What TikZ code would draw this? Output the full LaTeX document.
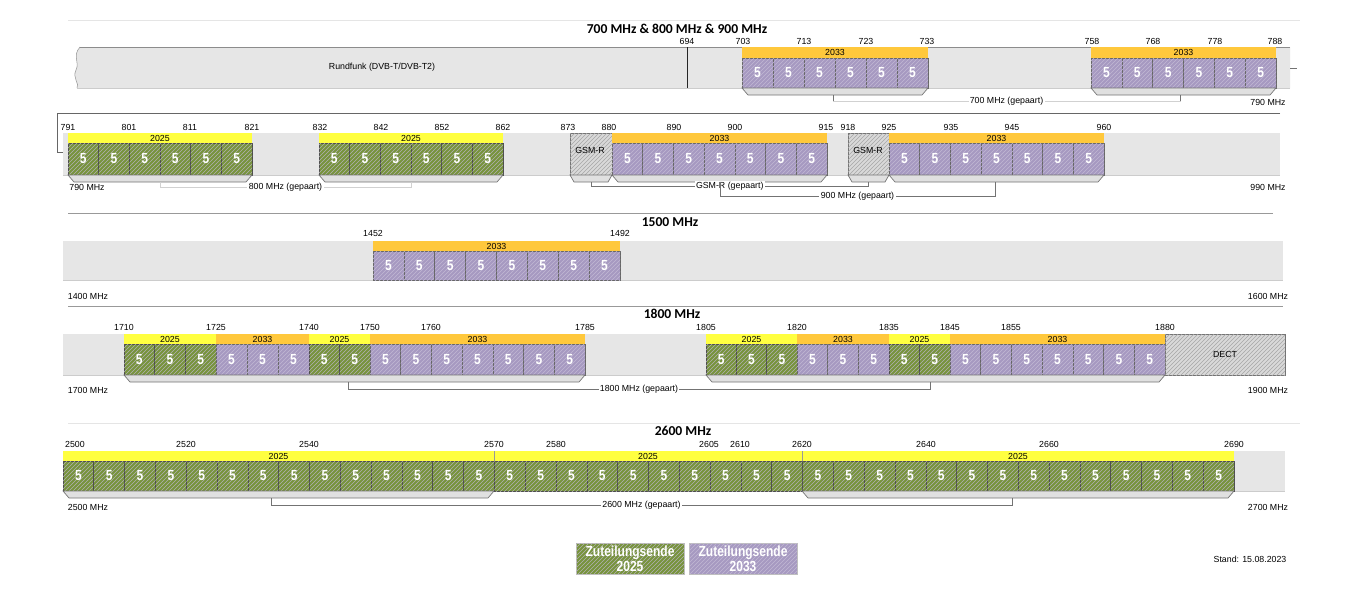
\documentclass[tikz,border=0pt]{standalone}
\usepackage{fontspec}
\setmainfont{Liberation Sans}
\newfontfamily\narrowfont[FakeStretch=0.82]{Liberation Sans}
\newfontfamily\titlefont{Carlito}
\usetikzlibrary{patterns,arrows.meta}
\definecolor{grn}{RGB}{119,147,60}
\definecolor{prp}{RGB}{166,153,193}
\definecolor{ylw}{RGB}{255,255,64}
\definecolor{org}{RGB}{255,200,60}
\definecolor{barc}{RGB}{230,230,230}
\definecolor{hatc}{RGB}{217,217,217}
% #1 prefix, #2 x0, #3 cell width, #4 n, #5 ytop, #6 ybot, #7 style
\newcommand\CellRun[7]{%
  \foreach \k in {1,...,#4}{%
    \pgfmathsetmacro\xa{#2+(\k-1)*#3}%
    \pgfmathsetmacro\xb{#2+\k*#3}%
    \path[#7] (\xa,#5) rectangle (\xb,#6);%
    \node[five] (#1-\k) at ({(\xa+\xb)/2},{(#5+#6)/2}) {5};%
  }}
% #1 name, #2 x0, #3 x1, #4 ytop, #5 style, #6 text
\newcommand\Hdr[6]{%
  \path[#5] (#2,#4) rectangle (#3,#4+10.5);%
  \node[lab] (#1) at ({(#2+#3)/2},#4+5.5) {#6};}
% #1 name, #2 x0, #3 x1, #4 ybot, #5 inset
\newcommand\Brk[5]{%
  \path[brkst] (#2,#4) -- (#2+#5,#4+7) -- (#3-#5,#4+7) -- (#3,#4) -- cycle;%
  \coordinate (#1) at ({(#2+#3)/2},#4+7);}
\begin{document}
\begin{tikzpicture}[x=0.75pt,y=-0.75pt,
  font=\fontsize{6.6}{7.5}\selectfont,
  lab/.style={inner sep=0pt, text=black},
  ttl/.style={inner sep=1pt, font=\titlefont\bfseries\fontsize{10.2}{12}\selectfont},
  five/.style={inner sep=0pt, text=white, font=\narrowfont\bfseries\fontsize{11}{12}\selectfont},
  gcell/.style={fill=grn, postaction={pattern=north east lines, pattern color=black!30}, draw=black!70, line width=0.5pt},
  pcell/.style={fill=prp, postaction={pattern=north east lines, pattern color=white!30!prp}, draw=black!60, line width=0.5pt},
  h25/.style={fill=ylw}, h33/.style={fill=org},
  barbg/.style={fill=barc},
  hatchbox/.style={fill=hatc, postaction={pattern=north east lines, pattern color=black!35}, draw=black!55, line width=0.5pt},
  brkst/.style={fill=black!12, draw=black!55, line width=0.5pt},
  pair/.style={draw=black!55, line width=0.45pt},
  faint/.style={draw=black!18, line width=0.45pt},
  pairlab/.style={fill=white, inner sep=1pt},
  sep/.style={draw=black!40, line width=0.6pt},
  lightsep/.style={draw=black!10, line width=0.6pt},
  legbox/.style={minimum width=81pt, minimum height=23pt, inner sep=0pt, align=center,
    text=white, font=\narrowfont\bfseries\fontsize{11}{11}\selectfont},
]
\useasboundingbox (0,0) rectangle (1351,600);
\fill[white] (0,0) rectangle (1351,600);

% ---------- separators and titles ----------
\draw[lightsep] (68,20) -- (1300,20);
\draw[sep] (68,213) -- (1273,213);
\draw[sep] (68,306) -- (1283,306);
\draw[lightsep] (68,423) -- (1300,423);
\node[ttl] (T1) at (677,29) {700 MHz \& 800 MHz \& 900 MHz};
\node[ttl] (T2) at (670,222) {1500 MHz};
\node[ttl] (T3) at (672,314) {1800 MHz};
\node[ttl] (T4) at (683,431) {2600 MHz};

% ================= ROW 1 =================
\path[barbg] (80,47) .. controls (72,56) and (80,62) .. (76,70) .. controls (72,78) and (80,84) .. (77,88) -- (1290,88) -- (1290,47) -- cycle;
\draw[black!40, line width=0.4pt] (80,47) .. controls (72,56) and (80,62) .. (76,70) .. controls (72,78) and (80,84) .. (77,88);
\draw[black!45, line width=0.6pt] (80,47) -- (1290,47);
\draw[black!20, line width=0.5pt] (77,88) -- (1290,88);
\node[lab] (rund) at (382,67) {Rundfunk (DVB-T/DVB-T2)};
\draw[black!85, line width=0.5pt] (687,47) -- (687,88);
\foreach \v/\x in {694/687, 703/743, 713/804, 723/866, 733/927, 758/1092, 768/1153, 778/1215, 788/1275}
  \node[lab] (t1-\v) at (\x,41) {\v};
\Hdr{h1a}{742}{928}{47}{h33}{2033}
\CellRun{c1a}{742}{31}{6}{58}{88}{pcell}
\Hdr{h1b}{1091}{1276}{47}{h33}{2033}
\CellRun{c1b}{1091}{30.833}{6}{58}{88}{pcell}
\Brk{b1a}{742}{928}{88}{6}
\Brk{b1b}{1091}{1276}{88}{6}
\coordinate (p1a) at (833,95);
\coordinate (p1b) at (1180,95);
\draw[faint] (p1a) |- node[pairlab, pos=0.75, text=black] {700 MHz (gepaart)} (p1b |- 0,101) -- (p1b);
\draw[black!55] (p1a) -- ++(0,6);
\draw[black!55] (p1b) -- ++(0,6);
\node[lab] (r1r) at (1268,102) {790 MHz};
\coordinate (stubA) at (1290,68);
\coordinate (stubB) at (1297,68);
\draw[black!55, line width=0.5pt] (stubA) -- (stubB);

% ================= ROW 2 =================
\coordinate (loopR) at (1280,113);
\coordinate (loopL) at (57,113);
\coordinate (loopIn) at (67,152);
\draw[black!60, line width=0.6pt, -{Latex[length=3pt,width=2.6pt]}] (loopR) -- (loopL) |- (loopIn);
\path[barbg] (63,133) rectangle (1280,175);
\draw[black!20, line width=0.5pt] (63,175) -- (1280,175);
\foreach \v/\x in {791/68, 801/129, 811/190, 821/252, 832/320, 842/381, 852/442, 862/503, 873/568, 880/609, 890/674, 900/735, 915/826, 918/848, 925/889, 935/951, 945/1012, 960/1104}
  \node[lab] (t2-\v) at (\x,127) {\v};
\Hdr{h2a}{68}{252}{133}{h25}{2025}
\CellRun{c2a}{68}{30.667}{6}{143}{175}{gcell}
\Hdr{h2b}{319}{503}{133}{h25}{2025}
\CellRun{c2b}{319}{30.667}{6}{143}{175}{gcell}
\path[hatchbox] (570,133) rectangle (612,175);
\node[lab] (gsm1) at (590,150) {GSM-R};
\Hdr{h2c}{612}{827}{133}{h33}{2033}
\CellRun{c2c}{612}{30.714}{7}{143}{175}{pcell}
\path[hatchbox] (848,133) rectangle (889,175);
\node[lab] (gsm2) at (868,150) {GSM-R};
\Hdr{h2d}{889}{1104}{133}{h33}{2033}
\CellRun{c2d}{889}{30.714}{7}{143}{175}{pcell}
\Brk{b2a}{68}{252}{175}{6}
\Brk{b2b}{319}{503}{175}{6}
\Brk{b2g1}{570}{612}{175}{4}
\Brk{b2c}{612}{827}{175}{6}
\Brk{b2g2}{848}{889}{175}{4}
\Brk{b2d}{889}{1104}{175}{6}
\draw[faint] (b2a) |- node[pairlab, pos=0.75, text=black] {800 MHz (gepaart)} (b2b |- 0,187) -- (b2b);
\draw[pair] (b2g1) |- node[pairlab, pos=0.75, text=black] {GSM-R (gepaart)} (b2g2 |- 0,186) -- (b2g2);
\coordinate (p2c) at (720,182);
\coordinate (p2d) at (995,182);
\draw[pair] (p2c) |- node[pairlab, pos=0.75, text=black] {900 MHz (gepaart)} (p2d |- 0,196) -- (p2d);
\node[lab] (r2l) at (87,187) {790 MHz};
\node[lab] (r2r) at (1268,187) {990 MHz};

% ================= ROW 3 =================
\path[barbg] (63,241) rectangle (1283,280);
\draw[black!20, line width=0.5pt] (63,280) -- (1283,280);
\node[lab] (t3-1452) at (373,233) {1452};
\node[lab] (t3-1492) at (620,233) {1492};
\Hdr{h3a}{373}{620}{241}{h33}{2033}
\CellRun{c3a}{373}{30.875}{8}{251}{280}{pcell}
\node[lab] (r3l) at (88,296) {1400 MHz};
\node[lab] (r3r) at (1268,296) {1600 MHz};

% ================= ROW 4 =================
\path[barbg] (63,334) rectangle (1285,375);
\draw[black!20, line width=0.5pt] (63,375) -- (1285,375);
\foreach \v/\x in {1710/124, 1725/216, 1740/309, 1750/370, 1760/431, 1785/585, 1805/706, 1820/797, 1835/889, 1845/950, 1855/1011, 1880/1165}
  \node[lab] (t4-\v) at (\x,327) {\v};
\Hdr{h4a}{124}{216}{334}{h25}{2025}
\Hdr{h4b}{216}{309}{334}{h33}{2033}
\Hdr{h4c}{309}{370}{334}{h25}{2025}
\Hdr{h4d}{370}{585}{334}{h33}{2033}
\CellRun{c4a}{124}{30.667}{3}{344}{375}{gcell}
\CellRun{c4b}{216}{31}{3}{344}{375}{pcell}
\CellRun{c4c}{309}{30.5}{2}{344}{375}{gcell}
\CellRun{c4d}{370}{30.714}{7}{344}{375}{pcell}
\Hdr{h4e}{706}{797}{334}{h25}{2025}
\Hdr{h4f}{797}{889}{334}{h33}{2033}
\Hdr{h4g}{889}{950}{334}{h25}{2025}
\Hdr{h4h}{950}{1165}{334}{h33}{2033}
\CellRun{c4e}{706}{30.333}{3}{344}{375}{gcell}
\CellRun{c4f}{797}{30.667}{3}{344}{375}{pcell}
\CellRun{c4g}{889}{30.5}{2}{344}{375}{gcell}
\CellRun{c4h}{950}{30.714}{7}{344}{375}{pcell}
\path[hatchbox] (1165,334) rectangle (1285,375);
\node[lab] (dect) at (1225,354) {DECT};
\Brk{b4a}{124}{585}{375}{6}
\Brk{b4b}{706}{1165}{375}{6}
\coordinate (p4a) at (348,382);
\coordinate (p4b) at (930,382);
\draw[pair] (p4a) |- node[pairlab, pos=0.75, text=black] {1800 MHz (gepaart)} (p4b |- 0,389) -- (p4b);
\node[lab] (r4l) at (88,390) {1700 MHz};
\node[lab] (r4r) at (1268,390) {1900 MHz};

% ================= ROW 5 =================
\path[barbg] (63,451) rectangle (1285,491);
\draw[black!20, line width=0.5pt] (63,491) -- (1285,491);
\foreach \v/\x in {2500/75, 2520/186, 2540/309, 2570/494, 2580/556, 2605/709, 2610/740, 2620/802, 2640/926, 2660/1049, 2690/1234}
  \node[lab] (t5-\v) at (\x,444) {\v};
\Hdr{h5a}{63}{494}{451}{h25}{2025}
\Hdr{h5b}{494}{802}{451}{h25}{2025}
\Hdr{h5c}{802}{1234}{451}{h25}{2025}
\draw[black!40, line width=0.4pt] (494,451) -- (494,461);
\draw[black!40, line width=0.4pt] (802,451) -- (802,461);
\CellRun{c5}{63}{30.816}{38}{461}{491}{gcell}
\Brk{b5a}{63}{494}{491}{6}
\Brk{b5b}{802}{1234}{491}{6}
\coordinate (p5a) at (271,498);
\coordinate (p5b) at (1012,498);
\draw[pair] (p5a) |- node[pairlab, pos=0.75, text=black] {2600 MHz (gepaart)} (p5b |- 0,505) -- (p5b);
\node[lab] (r5l) at (88,507) {2500 MHz};
\node[lab] (r5r) at (1268,507) {2700 MHz};

% ================= LEGEND =================
\node[legbox, fill=grn, postaction={pattern=north east lines, pattern color=black!30}, draw=black!25] (leg25) at (630,558.5) {Zuteilungsende\\2025};
\node[legbox, fill=prp, postaction={pattern=north east lines, pattern color=white!30!prp}, draw=black!25] (leg33) at (743,558.5) {Zuteilungsende\\2033};
\node[lab] (stand) at (1250,559) {Stand: 15.08.2023};
\end{tikzpicture}
\end{document}
